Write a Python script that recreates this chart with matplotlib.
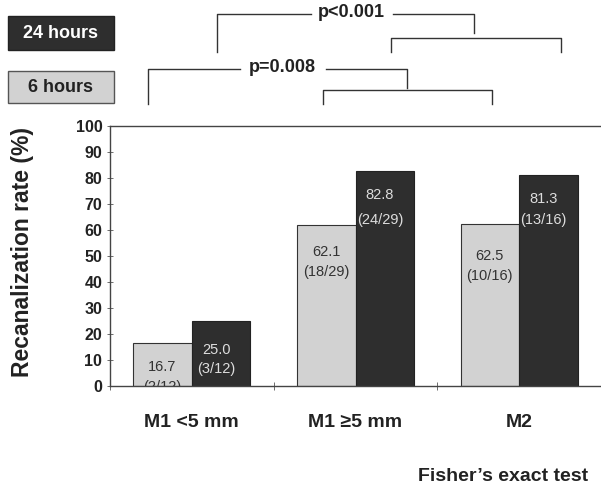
import numpy as np
import matplotlib.pyplot as plt
from matplotlib.patches import Rectangle

plt.rcParams['font.family'] = ['Liberation Sans', 'DejaVu Sans']

# data
categories = ["M1 <5 mm", "M1 \u22655 mm", "M2"]
rate_6h = [16.7, 62.1, 62.5]
rate_24h = [25.0, 82.8, 81.3]
counts_6h = ["(2/12)", "(18/29)", "(10/16)"]
counts_24h = ["(3/12)", "(24/29)", "(13/16)"]
yticks = list(range(0, 101, 10))

light = "#d2d2d2"
dark = "#2e2e2e"

W, H = 601, 494
fig = plt.figure(figsize=(W / 100, H / 100), dpi=100)
ax = fig.add_axes([110 / W, (H - 386) / H, 491 / W, 260 / H])

x = np.arange(len(categories))
bw = 0.358
ax.bar(x - bw / 2, rate_6h, bw, color=light, edgecolor="#333333", linewidth=0.8)
ax.bar(x + bw / 2, rate_24h, bw, color=dark, edgecolor="#222222", linewidth=0.8)

# value labels inside bars
lab6 = [(7.5, -0.5), (51.5, 44), (50, 42.5)]
lab24 = [(14, 6.5), (73.5, 64), (72, 64)]
for i in range(len(categories)):
    ax.text(x[i] - bw / 2, lab6[i][0], f"{rate_6h[i]:.1f}", ha="center", va="center",
            fontsize=10.5, color="#333333")
    ax.text(x[i] - bw / 2, lab6[i][1], counts_6h[i], ha="center", va="center",
            fontsize=10.5, color="#333333", clip_on=True)
    ax.text(x[i] + bw / 2 - 0.03, lab24[i][0], f"{rate_24h[i]:.1f}", ha="center", va="center",
            fontsize=10.5, color="#dddddd")
    ax.text(x[i] + bw / 2 - 0.03, lab24[i][1], counts_24h[i], ha="center", va="center",
            fontsize=10.5, color="#dddddd")

ax.set_xlim(-0.5, 2.5)
ax.set_ylim(0, 100)
ax.set_yticks(yticks)
ax.set_yticklabels([str(t) for t in yticks], fontsize=11.5, fontweight="bold", color="#222222")
ax.set_xticks(x)
ax.set_xticklabels(categories, fontsize=14, fontweight="bold", color="#222222")
ax.tick_params(axis="x", which="major", length=0, pad=20)
ax.set_xticks([-0.5, 0.5, 1.5, 2.5], minor=True)
ax.tick_params(axis="x", which="minor", length=6, width=0.6, direction="inout", color="#555555")
ax.tick_params(axis="y", length=5, width=0.6, direction="inout", color="#555555", pad=3)
ax.spines["right"].set_visible(False)
for s in ["top", "left", "bottom"]:
    ax.spines[s].set_linewidth(1.0)
    ax.spines[s].set_color("#444444")

ax.set_ylabel("Recanalization rate (%)", fontsize=16.5, fontweight="bold", color="#222222")
ax.yaxis.set_label_coords(-0.155, 0.515)

# significance brackets (data coordinates above the axes)
br_kw = dict(color="#333333", lw=1.0, clip_on=False)
# p<0.001
ax.plot([0.154, 0.154, 0.727], [128.5, 143.1, 143.1], **br_kw)
ax.plot([1.231, 1.726, 1.726], [143.1, 143.1, 135.8], **br_kw)
ax.plot([1.215, 1.215, 2.255, 2.255], [128.5, 133.8, 133.8, 128.5], **br_kw)
ax.text(0.975, 143.8, "p<0.001", ha="center", va="center", fontsize=13, fontweight="bold",
        color="#222222")
# p=0.008
ax.plot([-0.268, -0.268, 0.295], [108.5, 121.9, 121.9], **br_kw)
ax.plot([0.82, 1.316, 1.316], [121.9, 121.9, 114.6], **br_kw)
ax.plot([0.803, 0.803, 1.836, 1.836], [108.5, 113.8, 113.8, 108.5], **br_kw)
ax.text(0.555, 122.5, "p=0.008", ha="center", va="center", fontsize=13, fontweight="bold",
        color="#222222")

# legend boxes
fig.add_artist(Rectangle((8 / W, 1 - 50 / H), 106 / W, 34 / H, transform=fig.transFigure,
                         facecolor=dark, edgecolor="#222222", lw=1))
fig.text(61 / W, 1 - 33 / H, "24 hours", ha="center", va="center", fontsize=13,
         fontweight="bold", color="white")
fig.add_artist(Rectangle((8 / W, 1 - 103 / H), 106 / W, 32 / H, transform=fig.transFigure,
                         facecolor=light, edgecolor="#555555", lw=1))
fig.text(61 / W, 1 - 87 / H, "6 hours", ha="center", va="center", fontsize=13,
         fontweight="bold", color="#222222")

fig.text(588 / W, 1 - 476 / H, "Fisher\u2019s exact test", ha="right", va="center",
         fontsize=14, fontweight="bold", color="#222222")

fig.savefig("out.png", dpi=100, facecolor="white")
